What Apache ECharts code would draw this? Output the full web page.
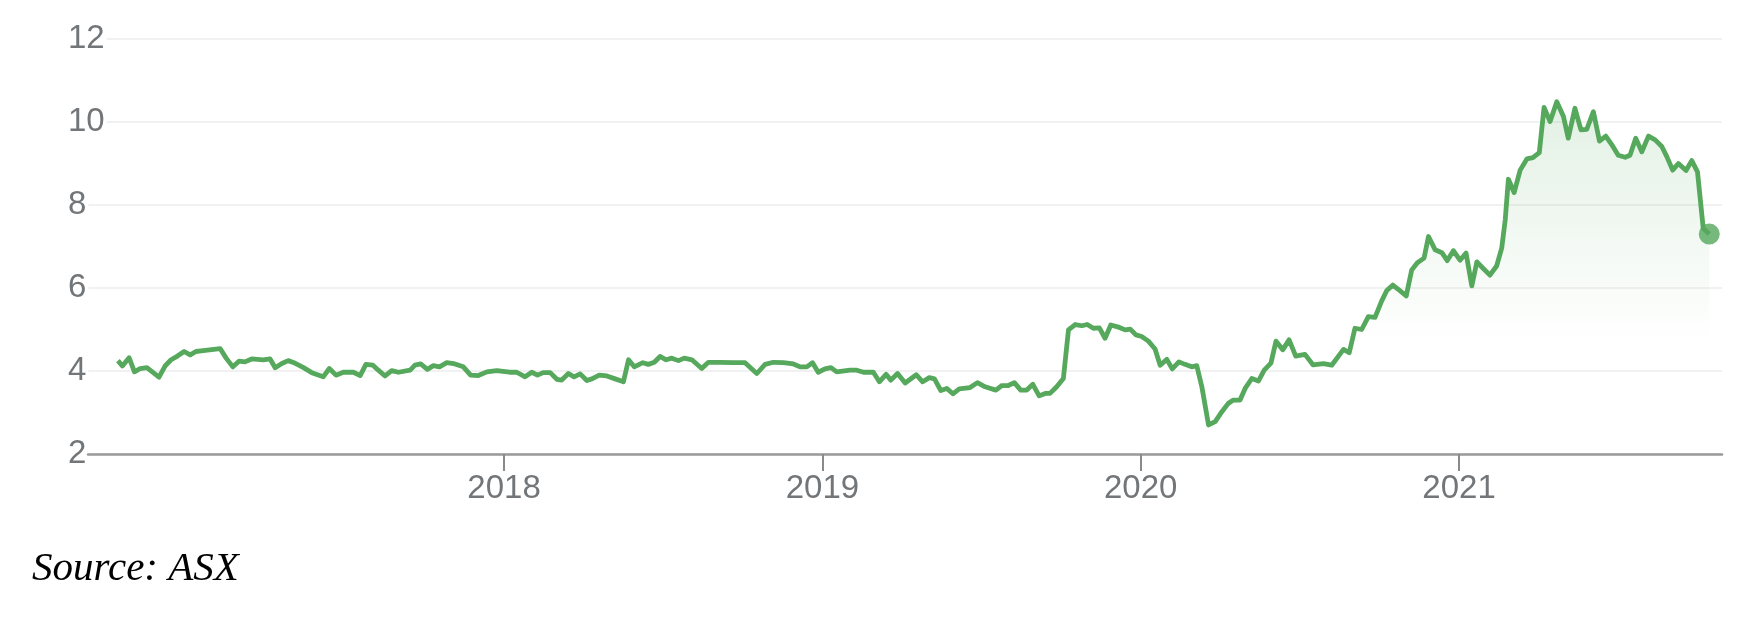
<!DOCTYPE html>
<html>
<head>
<meta charset="utf-8">
<script src="https://cdn.jsdelivr.net/npm/echarts@6/dist/echarts.min.js"></script>
<style>
html,body{margin:0;padding:0;background:#fff;}
#chart{width:1754px;height:618px;}
</style>
</head>
<body>
<div id="chart"></div>
<script>
// Time positions as decimal years
const years = [
  2016.787, 2016.801, 2016.822, 2016.839, 2016.857, 2016.878, 2016.916, 2016.935, 2016.954, 2016.974,
  2016.995, 2017.014, 2017.032, 2017.055, 2017.108, 2017.127, 2017.148, 2017.168, 2017.186, 2017.207,
  2017.244, 2017.265, 2017.281, 2017.302, 2017.322, 2017.340, 2017.370, 2017.396, 2017.432, 2017.451,
  2017.472, 2017.495, 2017.527, 2017.548, 2017.566, 2017.588, 2017.605, 2017.626, 2017.647, 2017.668,
  2017.705, 2017.720, 2017.738, 2017.759, 2017.778, 2017.797, 2017.820, 2017.841, 2017.872, 2017.895,
  2017.919, 2017.946, 2017.977, 2018.017,
  2018.040, 2018.066, 2018.087, 2018.105, 2018.123, 2018.145, 2018.166, 2018.181, 2018.202, 2018.220,
  2018.239, 2018.260, 2018.276, 2018.299, 2018.323, 2018.349, 2018.375, 2018.391, 2018.409, 2018.436,
  2018.453, 2018.472, 2018.490, 2018.509, 2018.527, 2018.548, 2018.566, 2018.590, 2018.621, 2018.642,
  2018.679, 2018.720, 2018.757, 2018.794, 2018.820, 2018.846, 2018.877, 2018.909, 2018.930, 2018.951,
  2018.969, 2018.987, 2019.008, 2019.027, 2019.045, 2019.087, 2019.108, 2019.129, 2019.160, 2019.179,
  2019.200, 2019.215, 2019.236, 2019.260, 2019.295,
  2019.315, 2019.336, 2019.352, 2019.372, 2019.391, 2019.410, 2019.430, 2019.464, 2019.487, 2019.511,
  2019.545, 2019.564, 2019.584, 2019.603, 2019.623, 2019.642, 2019.661, 2019.681, 2019.700, 2019.715,
  2019.736, 2019.757, 2019.773, 2019.794, 2019.815, 2019.832, 2019.851, 2019.870, 2019.888, 2019.906,
  2019.933, 2019.951, 2019.967, 2019.985, 2020.003, 2020.024, 2020.045, 2020.061, 2020.082, 2020.099,
  2020.120, 2020.139, 2020.160, 2020.176, 2020.192, 2020.213, 2020.234, 2020.255, 2020.275, 2020.291,
  2020.312, 2020.328, 2020.349, 2020.370, 2020.388, 2020.409, 2020.425, 2020.446, 2020.466, 2020.487,
  2020.516, 2020.541, 2020.574, 2020.600, 2020.637, 2020.655, 2020.673, 2020.694, 2020.715, 2020.736,
  2020.757, 2020.773, 2020.792, 2020.815, 2020.834, 2020.851, 2020.869, 2020.890, 2020.904, 2020.925,
  2020.946, 2020.963, 2020.982, 2021.003, 2021.022, 2021.040, 2021.056, 2021.076, 2021.097, 2021.118,
  2021.134, 2021.145, 2021.155, 2021.173, 2021.192, 2021.213, 2021.232, 2021.252, 2021.267, 2021.286,
  2021.307, 2021.328, 2021.343, 2021.364, 2021.383, 2021.401, 2021.422, 2021.441, 2021.461, 2021.480,
  2021.500, 2021.522, 2021.537, 2021.555, 2021.574, 2021.595, 2021.616, 2021.637, 2021.653, 2021.671,
  2021.689, 2021.713, 2021.731, 2021.749, 2021.767, 2021.786
];
// Share price (AUD)
const prices = [
  4.25, 4.12, 4.32, 3.98, 4.06, 4.08, 3.85, 4.12, 4.27, 4.36,
  4.47, 4.39, 4.47, 4.49, 4.54, 4.31, 4.10, 4.24, 4.22, 4.29,
  4.27, 4.29, 4.08, 4.18, 4.25, 4.20, 4.08, 3.96, 3.86, 4.06,
  3.90, 3.97, 3.97, 3.89, 4.16, 4.14, 4.02, 3.88, 4.01, 3.97,
  4.02, 4.14, 4.17, 4.04, 4.13, 4.10, 4.20, 4.18, 4.10, 3.90,
  3.89, 3.98, 4.01, 3.97,
  3.97, 3.86, 3.97, 3.90, 3.96, 3.96, 3.80, 3.78, 3.94, 3.86,
  3.93, 3.77, 3.81, 3.90, 3.88, 3.81, 3.74, 4.27, 4.10, 4.20,
  4.16, 4.21, 4.35, 4.27, 4.31, 4.25, 4.31, 4.27, 4.06, 4.21,
  4.21, 4.20, 4.20, 3.94, 4.16, 4.21, 4.20, 4.17, 4.10, 4.10,
  4.20, 3.97, 4.05, 4.08, 3.98, 4.02, 4.02, 3.97, 3.97, 3.74,
  3.92, 3.78, 3.94, 3.71, 3.91,
  3.74, 3.84, 3.81, 3.53, 3.58, 3.45, 3.57, 3.60, 3.72, 3.62,
  3.54, 3.65, 3.65, 3.72, 3.54, 3.54, 3.68, 3.40, 3.46, 3.46,
  3.62, 3.82, 4.99, 5.12, 5.09, 5.12, 5.03, 5.04, 4.79, 5.11,
  5.05, 4.99, 5.01, 4.87, 4.83, 4.72, 4.53, 4.14, 4.28, 4.05,
  4.22, 4.16, 4.10, 4.13, 3.62, 2.70, 2.78, 3.02, 3.22, 3.30,
  3.30, 3.58, 3.82, 3.76, 4.02, 4.19, 4.72, 4.51, 4.75, 4.36,
  4.40, 4.15, 4.18, 4.14, 4.52, 4.44, 5.03, 5.00, 5.31, 5.29,
  5.69, 5.94, 6.07, 5.93, 5.81, 6.43, 6.61, 6.72, 7.24, 6.92,
  6.85, 6.66, 6.90, 6.67, 6.84, 6.05, 6.63, 6.47, 6.31, 6.53,
  6.96, 7.64, 8.62, 8.30, 8.84, 9.11, 9.14, 9.26, 10.35, 10.01,
  10.49, 10.13, 9.61, 10.33, 9.81, 9.82, 10.25, 9.54, 9.66, 9.45,
  9.20, 9.15, 9.20, 9.61, 9.28, 9.66, 9.57, 9.41, 9.16, 8.84,
  9.00, 8.83, 9.07, 8.80, 7.44, 7.30
];
const xTickYears = [2018, 2019, 2020, 2021];
const yTicks = [2, 4, 6, 8, 10, 12];
const xRange = [2016.693, 2021.826];
const sourceText = 'Source: ASX';

const lineColor = '#55a85c';
const labelColor = '#737679';

const seriesData = years.map((y, i) => [y, prices[i]]);
const lastPoint = seriesData[seriesData.length - 1];

const chart = echarts.init(document.getElementById('chart'), null, {renderer: 'canvas'});
chart.setOption({
  animation: false,
  backgroundColor: '#ffffff',
  grid: {left: 88, right: 32, top: 39, bottom: 164, containLabel: false},
  xAxis: {
    type: 'value',
    min: xRange[0],
    max: xRange[1],
    z: 6,
    axisLine: {show: true, onZero: false, lineStyle: {color: '#999999', width: 2.5}},
    axisTick: {show: true, customValues: xTickYears, length: 17, lineStyle: {color: '#8a8a8a', width: 2}},
    axisLabel: {
      customValues: xTickYears,
      formatter: v => String(Math.round(v)),
      color: labelColor,
      fontSize: 33,
      fontFamily: 'Liberation Sans, Arial, sans-serif',
      margin: 18
    },
    splitLine: {show: false}
  },
  yAxis: {
    type: 'value',
    min: yTicks[0],
    max: yTicks[yTicks.length - 1],
    interval: 2,
    axisLine: {show: false},
    axisTick: {show: false},
    axisLabel: {
      align: 'left',
      margin: 20,
      color: labelColor,
      fontSize: 33,
      fontFamily: 'Liberation Sans, Arial, sans-serif',
      backgroundColor: '#ffffff',
      padding: [2, 2, 2, 0]
    },
    splitLine: {show: true, lineStyle: {color: '#f1f1f1', width: 2}}
  },
  series: [
    {
      type: 'line',
      data: seriesData,
      showSymbol: false,
      symbol: 'none',
      lineStyle: {color: lineColor, width: 4.8, join: 'round'},
      areaStyle: {
        color: new echarts.graphic.LinearGradient(0, 100, 0, 345, [
          {offset: 0, color: 'rgba(85,168,92,0.24)'},
          {offset: 1, color: 'rgba(85,168,92,0)'}
        ], true)
      },
      z: 3
    },
    {
      type: 'scatter',
      data: [lastPoint],
      symbol: 'circle',
      symbolSize: 21,
      itemStyle: {color: lineColor},
      z: 4
    }
  ],
  graphic: [
    {
      type: 'text',
      left: 32,
      top: 549,
      style: {
        text: sourceText,
        font: 'italic 41px "Liberation Serif", "Times New Roman", serif',
        fill: '#000000'
      }
    }
  ]
});
</script>
</body>
</html>
